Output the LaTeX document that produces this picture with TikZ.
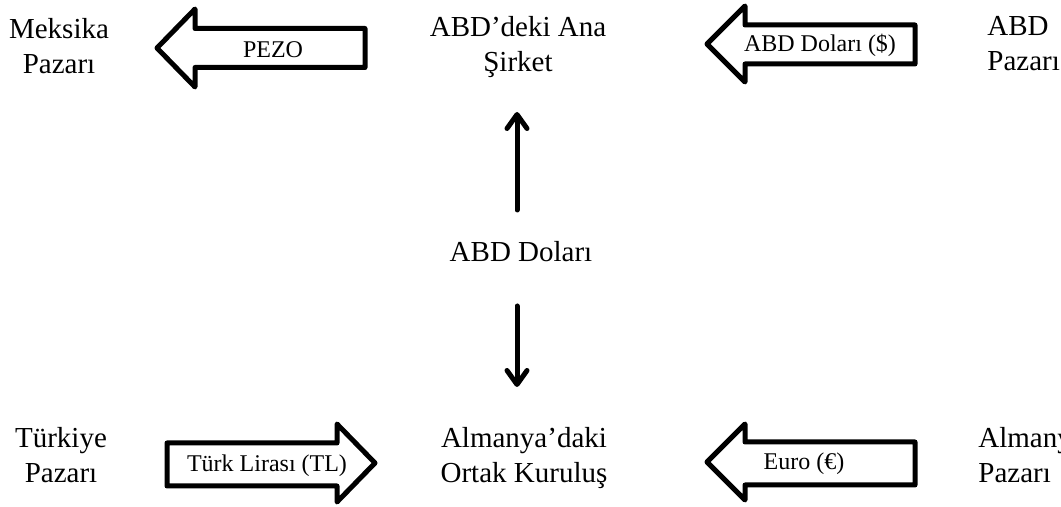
\documentclass[tikz,border=0pt]{standalone}
\usepackage{fontspec}
\setmainfont{Liberation Serif}
\usetikzlibrary{arrows.meta}
\tikzset{
  lbl/.style={inner sep=0pt, align=center, font=\fontsize{14.5pt}{17.5pt}\selectfont},
  lblw/.style={inner sep=0pt, align=left, font=\fontsize{14.5pt}{17.5pt}\selectfont},
  cur/.style={inner sep=0pt, font=\fontsize{12pt}{14pt}\selectfont},
  blockarrow/.style={draw=black, line width=2.5pt, line join=round, fill=white},
  flow/.style={line width=2.5pt, line cap=round, -{Straight Barb[length=7pt,width=10pt,round]}}
}
\begin{document}
\begin{tikzpicture}[x=0.5pt,y=-0.5pt]
\useasboundingbox (0,0) rectangle (1061,507);
% block arrows
\draw[blockarrow] (157,48) -- (195,9) -- (195,28.5) -- (365,28.5) -- (365,67.5) -- (195,67.5) -- (195,87) -- cycle;
\draw[blockarrow] (707,44) -- (745,6) -- (745,25) -- (915,25) -- (915,64) -- (745,64) -- (745,82) -- cycle;
\draw[blockarrow] (375,463) -- (337,424) -- (337,443) -- (167,443) -- (167,486) -- (337,486) -- (337,502) -- cycle;
\draw[blockarrow] (707,462) -- (745,424) -- (745,442) -- (915,442) -- (915,485) -- (745,485) -- (745,500) -- cycle;
% arrow labels
\node[cur, anchor=base] (pezo) at (273,58) {PEZO};
\node[cur, anchor=base] (usd) at (820,52) {ABD Doları (\$)};
\node[cur, anchor=base] (tl) at (267,472) {Türk Lirası (TL)};
\node[cur, anchor=base] (eur) at (804,470) {Euro (€)};
% texts (base anchor = last line's baseline)
\node[lbl, anchor=base] (mex) at (59,74) {Meksika\\Pazarı};
\node[lbl, anchor=base] (hq) at (518,72) {ABD’deki Ana\\Şirket};
\node[lblw, anchor=base west] (usm) at (987,71) {ABD\\Pazarı};
\node[lbl, anchor=base] (dol) at (521,262) {ABD Doları};
\node[lbl, anchor=base] (tur) at (61,483) {Türkiye\\Pazarı};
\node[lbl, anchor=base] (jv) at (524,483) {Almanya’daki\\Ortak Kuruluş};
\node[lblw, anchor=base west] (grm) at (978,483) {Almanya\\Pazarı};
% vertical arrows
\coordinate (u1) at (517,210);
\coordinate (u2) at (517,112);
\coordinate (d1) at (517,306);
\coordinate (d2) at (517,387);
\draw[flow] (u1) -- (u2);
\draw[flow] (d1) -- (d2);
\end{tikzpicture}
\end{document}
